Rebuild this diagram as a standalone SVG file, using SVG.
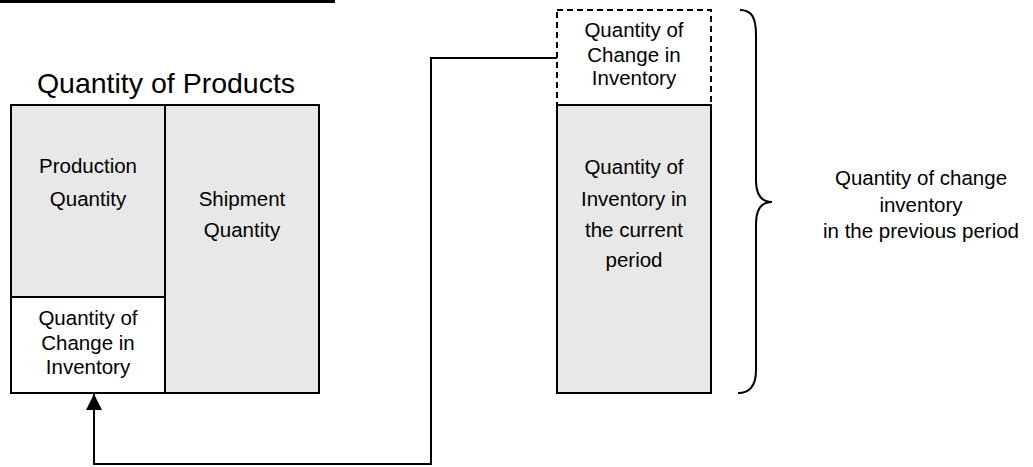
<svg xmlns="http://www.w3.org/2000/svg" width="1033" height="467" viewBox="0 0 1033 467">
  <defs>
    <style>
      .box { stroke: #000; stroke-width: 2; }
      .gray { fill: #e8e8e8; }
      .white { fill: #fff; }
      .dash { fill: #fff; stroke: #000; stroke-width: 2; stroke-dasharray: 6 4; }
      .t { font-family: "Liberation Sans", Arial, sans-serif; font-size: 20.5px; fill: #000; text-anchor: middle; }
      .title { font-family: "Liberation Sans", Arial, sans-serif; font-size: 28.5px; fill: #000; text-anchor: middle; }
      .conn { fill: none; stroke: #000; stroke-width: 2; }
    </style>
    <marker id="arrow" viewBox="0 0 16 16" refX="16" refY="8" markerWidth="16" markerHeight="16" markerUnits="userSpaceOnUse" orient="auto">
      <path d="M0,0 L16,8 L0,16 Z" fill="#000"/>
    </marker>
  </defs>
  <rect width="1033" height="467" fill="#fff"/>
  <rect x="0" y="0" width="335" height="3" fill="#000"/>

  <g id="title">
    <text class="title" x="166" y="93">Quantity of Products</text>
  </g>

  <g id="production">
    <rect class="box gray" x="11" y="105" width="154" height="192"/>
    <text class="t" x="88" y="173">Production</text>
    <text class="t" x="88" y="206">Quantity</text>
  </g>
  <g id="change-left">
    <rect class="box white" x="11" y="297" width="154" height="96"/>
    <text class="t" x="88" y="325">Quantity of</text>
    <text class="t" x="88" y="350">Change in</text>
    <text class="t" x="88" y="374">Inventory</text>
  </g>
  <g id="shipment">
    <rect class="box gray" x="165" y="105" width="154" height="288"/>
    <text class="t" x="242" y="206">Shipment</text>
    <text class="t" x="242" y="237">Quantity</text>
  </g>

  <g id="change-right">
    <rect class="dash" x="557" y="10" width="154" height="95"/>
    <text class="t" x="634" y="37">Quantity of</text>
    <text class="t" x="634" y="62">Change in</text>
    <text class="t" x="634" y="85">Inventory</text>
  </g>
  <g id="inventory-current">
    <rect class="box gray" x="557" y="105" width="154" height="288"/>
    <text class="t" x="634" y="174">Quantity of</text>
    <text class="t" x="634" y="206">Inventory in</text>
    <text class="t" x="634" y="237">the current</text>
    <text class="t" x="634" y="267">period</text>
  </g>

  <g id="brace">
    <path class="conn" d="M740,10 C752,10 756,18 756,35 L756,180 C756,196 762,202 772,202 C762,202 756,208 756,224 L756,370 C756,386 750,393 738,393"/>
  </g>
  <g id="previous-label">
    <text class="t" x="921" y="185">Quantity of change</text>
    <text class="t" x="921" y="212">inventory</text>
    <text class="t" x="921" y="238">in the previous period</text>
  </g>

  <g id="connectors">
    <path class="conn" d="M557,58 H431 V464 H94 V394" marker-end="url(#arrow)"/>
  </g>
</svg>
